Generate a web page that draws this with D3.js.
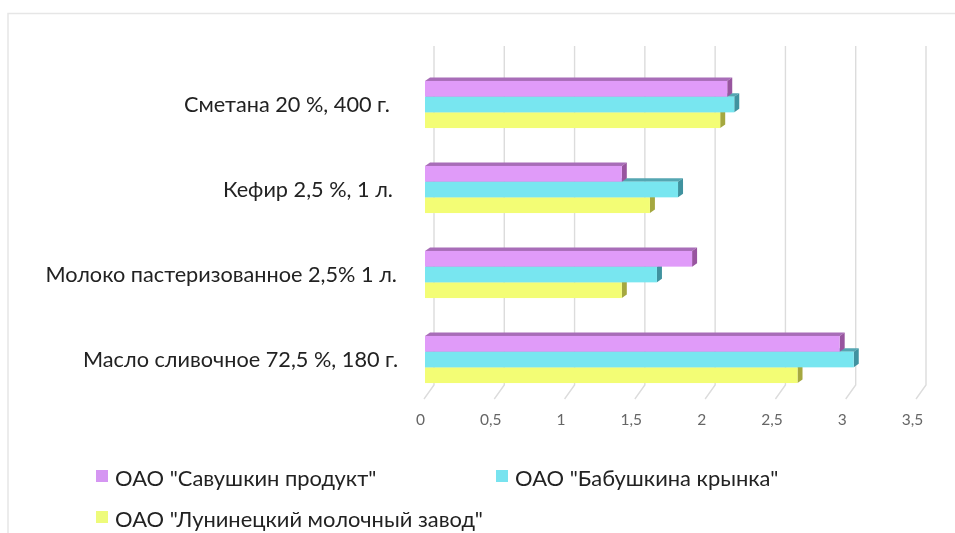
<!DOCTYPE html>
<html><head><meta charset="utf-8">
<script src="https://cdn.jsdelivr.net/npm/d3@7"></script>
<style>html,body{margin:0;padding:0;background:#fff}svg{display:block}</style>
</head><body><svg id="c" width="955" height="533"></svg>
<script>
const categories = ["Сметана 20 %, 400 г.","Кефир 2,5 %, 1 л.","Молоко пастеризованное 2,5% 1 л.","Масло сливочное 72,5 %, 180 г."];
const seriesNames = ['ОАО "Савушкин продукт"','ОАО "Бабушкина крынка"','ОАО "Лунинецкий молочный завод"'];
const savushkin = [2.15,1.4,1.9,2.95];
const babushkina = [2.2,1.8,1.65,3.05];
const luninets = [2.1,1.6,1.4,2.65];
const tickValues = [0,0.5,1,1.5,2,2.5,3,3.5];
const frontColors = ["#e09bf9","#78e6f0","#f3fd74"];
const topColors = ["#a86db8","#54a6b2","#b5bc55"];
const sideColors = ["#98559f","#3f929f","#a5a83f"];
const legendColors = ["#d596f2","#78e3ef","#eefb7a"];
const labelRight = [390,393,397,398];

const svg = d3.select("#c");
const g = svg.append("g").attr("filter","url(#soft)");
svg.append("defs").append("filter").attr("id","soft").append("feGaussianBlur").attr("stdDeviation",0.5);
const F = "Lato, 'Open Sans', sans-serif";
const dx=5, dy=-3.5;

g.append("path").attr("d","M8,533V13.5H955").attr("fill","none").attr("stroke","#e6e6e6").attr("stroke-width",1.5);

const xFront = d3.scaleLinear().domain([0,3.5]).range([425,917]);
const xBack = d3.scaleLinear().domain([0,3.5]).range([434,926]);
const y = d3.scaleBand().domain(categories).range([63,403]).paddingInner(0).paddingOuter(0);
const series = [savushkin,babushkina,luninets];
const barH = 15.7;

// wall and floor
g.append("g").selectAll("path").data(tickValues).join("path")
 .attr("d",v=>d3.line()([[xBack(v),46],[xBack(v),385],[xBack(v)-10,399]]))
 .attr("fill","none").attr("stroke","#dcdcdc").attr("stroke-width",1.4);

// bars
categories.forEach((c,i)=>{
  const top = y(c)+ (y.bandwidth()-3*barH)/2 - 1;
  [2,1,0].forEach(s=>{
    const v=series[s][i], x0=xFront(0), x1=xFront(v), yt=top+s*barH, yb=yt+barH;
    const b=g.append("g");
    b.append("path").attr("fill",topColors[s]).attr("d",d3.line()([[x0,yt],[x0+dx,yt+dy],[x1+dx,yt+dy],[x1,yt]]));
    b.append("path").attr("fill",sideColors[s]).attr("d",d3.line()([[x1,yt],[x1+dx,yt+dy],[x1+dx,yb+dy],[x1,yb]]));
    b.append("rect").attr("x",x0).attr("y",yt).attr("width",x1-x0).attr("height",barH).attr("fill",frontColors[s]);
  });
});

// category labels
g.append("g").selectAll("text").data(categories).join("text")
 .attr("x",(c,i)=>labelRight[i]).attr("y",c=>y(c)+y.bandwidth()/2+6)
 .attr("text-anchor","end").attr("font-family",F).attr("font-size",21.7).attr("fill","#222").text(d=>d);

// value axis
const axis = d3.axisBottom(xFront).tickValues(tickValues).tickSize(0).tickFormat(d=>String(d).replace(".",","));
const ax = g.append("g").attr("transform","translate(-5,411)").call(axis);
ax.select(".domain").remove();
ax.selectAll("text").attr("font-family",F).attr("font-size",15.5).attr("fill","#666");

// legend
const legendPos=[[96,470],[496,470],[96,511]];
const lg=g.append("g").selectAll("g").data(seriesNames).join("g").attr("transform",(d,i)=>`translate(${legendPos[i]})`);
lg.append("rect").attr("width",12).attr("height",12).attr("fill",(d,i)=>legendColors[i]);
lg.append("text").attr("x",19).attr("y",16).attr("font-family",F).attr("font-size",21.9).attr("fill","#222").text(d=>d);
</script></body></html>
